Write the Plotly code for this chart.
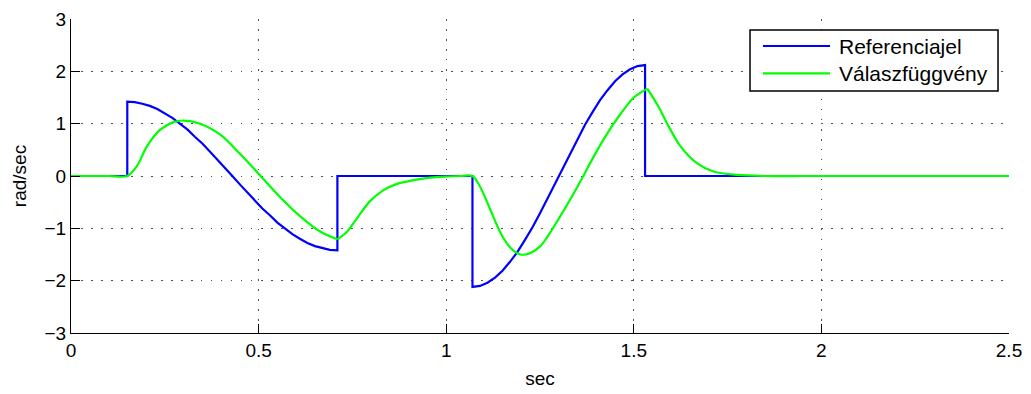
import plotly.graph_objects as go

# ---- data ----
# Referenciajel (reference signal)
ref_t = [0.0, 0.15,
         0.15, 0.17, 0.19, 0.21, 0.23, 0.25, 0.27, 0.29, 0.31, 0.33, 0.35, 0.37, 0.39, 0.41,
         0.43, 0.45, 0.47, 0.49, 0.51, 0.53, 0.55, 0.57, 0.59, 0.61, 0.63, 0.65, 0.67, 0.69, 0.71,
         0.71, 1.07,
         1.07, 1.09, 1.11, 1.13, 1.15, 1.17, 1.19, 1.21, 1.23, 1.25, 1.27, 1.29,
         1.31, 1.33, 1.35, 1.37, 1.39, 1.41, 1.43, 1.45, 1.47, 1.49, 1.51, 1.53,
         1.53, 2.5]
ref_y = [0.0, 0.0,
         1.42, 1.41, 1.38, 1.34, 1.28, 1.20, 1.11, 1.00, 0.89, 0.75, 0.62, 0.47, 0.32, 0.16,
         0.0, -0.16, -0.32, -0.47, -0.62, -0.75, -0.89, -1.00, -1.11, -1.20, -1.28, -1.34, -1.38, -1.41, -1.42,
         0.0, 0.0,
         -2.12, -2.10, -2.04, -1.94, -1.81, -1.64, -1.45, -1.22, -0.98, -0.71, -0.43, -0.15,
         0.15, 0.43, 0.71, 0.98, 1.22, 1.45, 1.64, 1.81, 1.94, 2.04, 2.10, 2.12,
         0.0, 0.0]

# Válaszfüggvény (response), three smooth pieces split at its sharp corners
resp1_t = [0.0, 0.10, 0.15, 0.175, 0.202, 0.237, 0.273, 0.30, 0.344, 0.398, 0.451,
           0.504, 0.557, 0.611, 0.664, 0.71]
resp1_y = [0.0, 0.0, 0.0, 0.18, 0.56, 0.88, 1.03, 1.06, 1.00, 0.79, 0.42,
           0.01, -0.40, -0.77, -1.06, -1.21]
resp2_t = [0.71, 0.735, 0.765, 0.797, 0.833, 0.869, 0.913, 0.958, 1.0, 1.04, 1.07,
           1.09, 1.118, 1.145, 1.171, 1.198, 1.225, 1.251, 1.269, 1.304, 1.34, 1.367,
           1.393, 1.429, 1.465, 1.50, 1.536]
resp2_y = [-1.21, -1.07, -0.78, -0.48, -0.27, -0.15, -0.08, -0.03, -0.01, 0.0, 0.0,
           -0.20, -0.65, -1.09, -1.37, -1.50, -1.47, -1.34, -1.17, -0.77, -0.33, 0.02,
           0.37, 0.81, 1.19, 1.50, 1.67]
resp3_t = [1.536, 1.567, 1.589, 1.625, 1.669, 1.714, 1.776, 1.85, 1.95, 2.5]
resp3_y = [1.67, 1.31, 1.00, 0.56, 0.24, 0.08, 0.02, 0.0, 0.0, 0.0]

x_ticks = [0, 0.5, 1, 1.5, 2, 2.5]
x_tick_text = ["0", "0.5", "1", "1.5", "2", "2.5"]
y_ticks = [-3, -2, -1, 0, 1, 2, 3]
y_tick_text = ["\u22123", "\u22122", "\u22121", "0", "1", "2", "3"]

series_names = ["Referenciajel", "Válaszfüggvény"]
series_colors = ["#0000ff", "#00ff00"]

FONT = "Liberation Sans, Arial, Helvetica, sans-serif"

fig = go.Figure()
fig.add_trace(go.Scatter(x=ref_t, y=ref_y, mode="lines", name=series_names[0],
                         line=dict(color=series_colors[0], width=2.2), showlegend=False))
for tt, yy in [(resp1_t, resp1_y), (resp2_t, resp2_y), (resp3_t, resp3_y)]:
    fig.add_trace(go.Scatter(x=tt, y=yy, mode="lines", name=series_names[1],
                             line=dict(color=series_colors[1], width=2.2, shape="spline", smoothing=0.9),
                             showlegend=False))

axis_common = dict(
    showline=True, linecolor="black", linewidth=1, mirror=False,
    ticks="inside", ticklen=9, tickcolor="black", tickwidth=1,
    showgrid=True, gridcolor="rgba(60,60,60,0.9)", gridwidth=1, griddash="1.5px,8.5px",
    zeroline=False, automargin=False,
    tickfont=dict(family=FONT, size=19, color="black"),
)
fig.update_xaxes(range=[0, 2.5], tickvals=x_ticks, ticktext=x_tick_text,
                 title=dict(text="sec", font=dict(family=FONT, size=19, color="black"), standoff=11),
                 **axis_common)
fig.update_yaxes(range=[-3, 3], tickvals=y_ticks, ticktext=y_tick_text,
                 title=dict(text="rad/sec", font=dict(family=FONT, size=19, color="black"), standoff=12),
                 **axis_common)

# legend drawn in MATLAB style (long line samples)
lx0, lx1, ly0, ly1 = 0.7239, 0.9883, 0.7707, 0.965
fig.add_shape(type="rect", xref="paper", yref="paper", x0=lx0, x1=lx1, y0=ly0, y1=ly1,
              line=dict(color="black", width=1.5), fillcolor="white", layer="above")
for i, yy in enumerate([0.914, 0.827]):
    fig.add_shape(type="line", xref="paper", yref="paper", x0=0.7377, x1=0.8092, y0=yy, y1=yy,
                  line=dict(color=series_colors[i], width=2.2), layer="above")
    fig.add_annotation(xref="paper", yref="paper", x=0.8166, y=yy, xanchor="left", yanchor="middle",
                       text=series_names[i], showarrow=False,
                       font=dict(family=FONT, size=21, color="black"))

# the page puts the figure 8px in from the top-left corner, so the figure is
# sized to fill the rest of the 1031x394 window
fig.update_layout(
    width=1023, height=386,
    margin=dict(l=63, r=22, t=11, b=61),
    paper_bgcolor="white", plot_bgcolor="white",
    showlegend=False,
)
fig.write_html("out.html")
